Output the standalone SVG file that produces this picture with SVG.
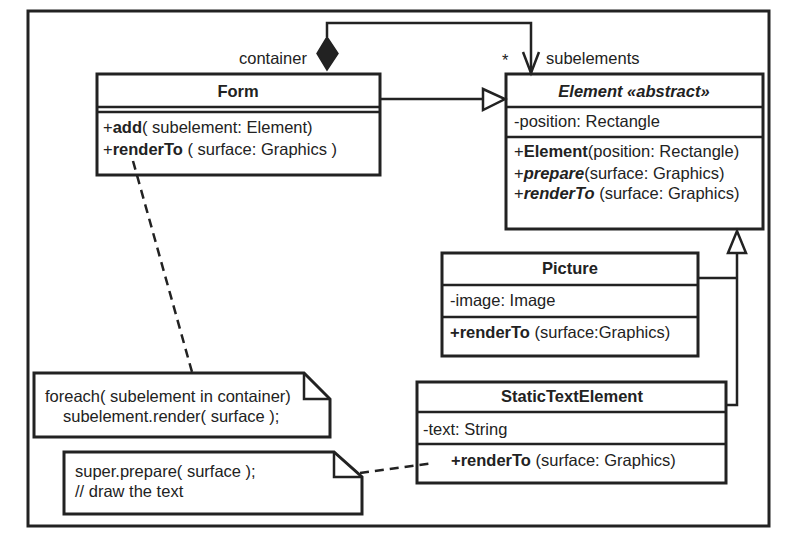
<svg xmlns="http://www.w3.org/2000/svg" width="799" height="548" viewBox="0 0 799 548">
<style>
.box{fill:#fff;stroke:#222;stroke-width:3}
.sep{stroke:#222;stroke-width:2.5;fill:none}
.ln{stroke:#222;stroke-width:2.5;fill:none}
.dash{stroke:#222;stroke-width:2.5;fill:none;stroke-dasharray:9 6}
text{font-family:"Liberation Sans",Arial,sans-serif;font-size:16.5px;fill:#222}
.b{font-weight:bold}
.bi{font-weight:bold;font-style:italic}
.c{text-anchor:middle}
</style>
<rect x="0" y="0" width="799" height="548" fill="#fff"/>
<rect x="28" y="11" width="741" height="515" fill="#fff" stroke="#222" stroke-width="3"/>

<text x="239" y="64">container</text>
<text x="502" y="66">*</text>
<text x="546" y="64">subelements</text>

<g id="form">
  <rect class="box" x="97" y="74" width="283" height="101"/>
  <line class="sep" x1="97" y1="107" x2="380" y2="107"/>
  <line class="sep" x1="97" y1="112" x2="380" y2="112"/>
  <text class="b c" x="238" y="97">Form</text>
  <text x="103" y="133">+<tspan class="b">add</tspan>( subelement: Element)</text>
  <text x="103" y="155">+<tspan class="b">renderTo</tspan> ( surface: Graphics )</text>
</g>

<g id="element">
  <rect class="box" x="506" y="74" width="257" height="155"/>
  <line class="sep" x1="506" y1="107" x2="763" y2="107"/>
  <line class="sep" x1="506" y1="137" x2="763" y2="137"/>
  <text class="bi c" x="634" y="97">Element «abstract»</text>
  <text x="514" y="127">-position: Rectangle</text>
  <text x="514" y="157">+<tspan class="b">Element</tspan>(position: Rectangle)</text>
  <text x="514" y="179">+<tspan class="bi">prepare</tspan>(surface: Graphics)</text>
  <text x="514" y="199">+<tspan class="bi">renderTo</tspan> (surface: Graphics)</text>
</g>

<g id="picture">
  <rect class="box" x="442" y="253" width="256" height="103"/>
  <line class="sep" x1="442" y1="285" x2="698" y2="285"/>
  <line class="sep" x1="442" y1="317" x2="698" y2="317"/>
  <text class="b c" x="570" y="274">Picture</text>
  <text x="450" y="306">-image: Image</text>
  <text x="450" y="338"><tspan class="b">+renderTo</tspan>  (surface:Graphics)</text>
</g>

<g id="statictextelement">
  <rect class="box" x="417" y="382" width="309" height="101"/>
  <line class="sep" x1="417" y1="412" x2="726" y2="412"/>
  <line class="sep" x1="417" y1="444" x2="726" y2="444"/>
  <text class="b c" x="572" y="402">StaticTextElement</text>
  <text x="423" y="435">-text: String</text>
  <text x="451" y="466"><tspan class="b">+renderTo</tspan>  (surface: Graphics)</text>
</g>

<g id="note1">
  <path class="box" d="M34,373 H304 L330,399 V437 H34 Z"/>
  <polyline class="sep" points="304,373 304,399 330,399"/>
  <text x="45" y="402">foreach( subelement in container)</text>
  <text x="63" y="422">subelement.render( surface );</text>
</g>

<g id="note2">
  <path class="box" d="M64,452 H334 L362,477 V514 H64 Z"/>
  <polyline class="sep" points="334,452 334,477 362,477"/>
  <text x="75" y="477">super.prepare( surface );</text>
  <text x="75" y="497">// draw the text</text>
</g>

<g id="connectors">
  <!-- composition Form -> Element -->
  <polyline class="ln" points="327,37 327,23 531,23 531,73"/>
  <polygon points="327,37 338,53.5 327,70 317,53.5" fill="#222" stroke="#222" stroke-width="1.5"/>
  <polyline class="ln" points="523,52 531,73 539,52"/>
  <!-- Form generalization -->
  <line class="ln" x1="381" y1="99" x2="483" y2="99"/>
  <polygon points="483,89 505,99 483,110" fill="#fff" stroke="#222" stroke-width="2.5"/>
  <!-- Picture / StaticTextElement generalization -->
  <polyline class="ln" points="699,278 737,278"/>
  <polyline class="ln" points="727,405 737,405 737,253"/>
  <polygon points="728,253 737,231 746,253" fill="#fff" stroke="#222" stroke-width="2.5"/>
  <!-- note links -->
  <line class="dash" x1="133" y1="161" x2="192" y2="372"/>
  <line class="dash" x1="360" y1="473" x2="434" y2="463"/>
</g>
</svg>
